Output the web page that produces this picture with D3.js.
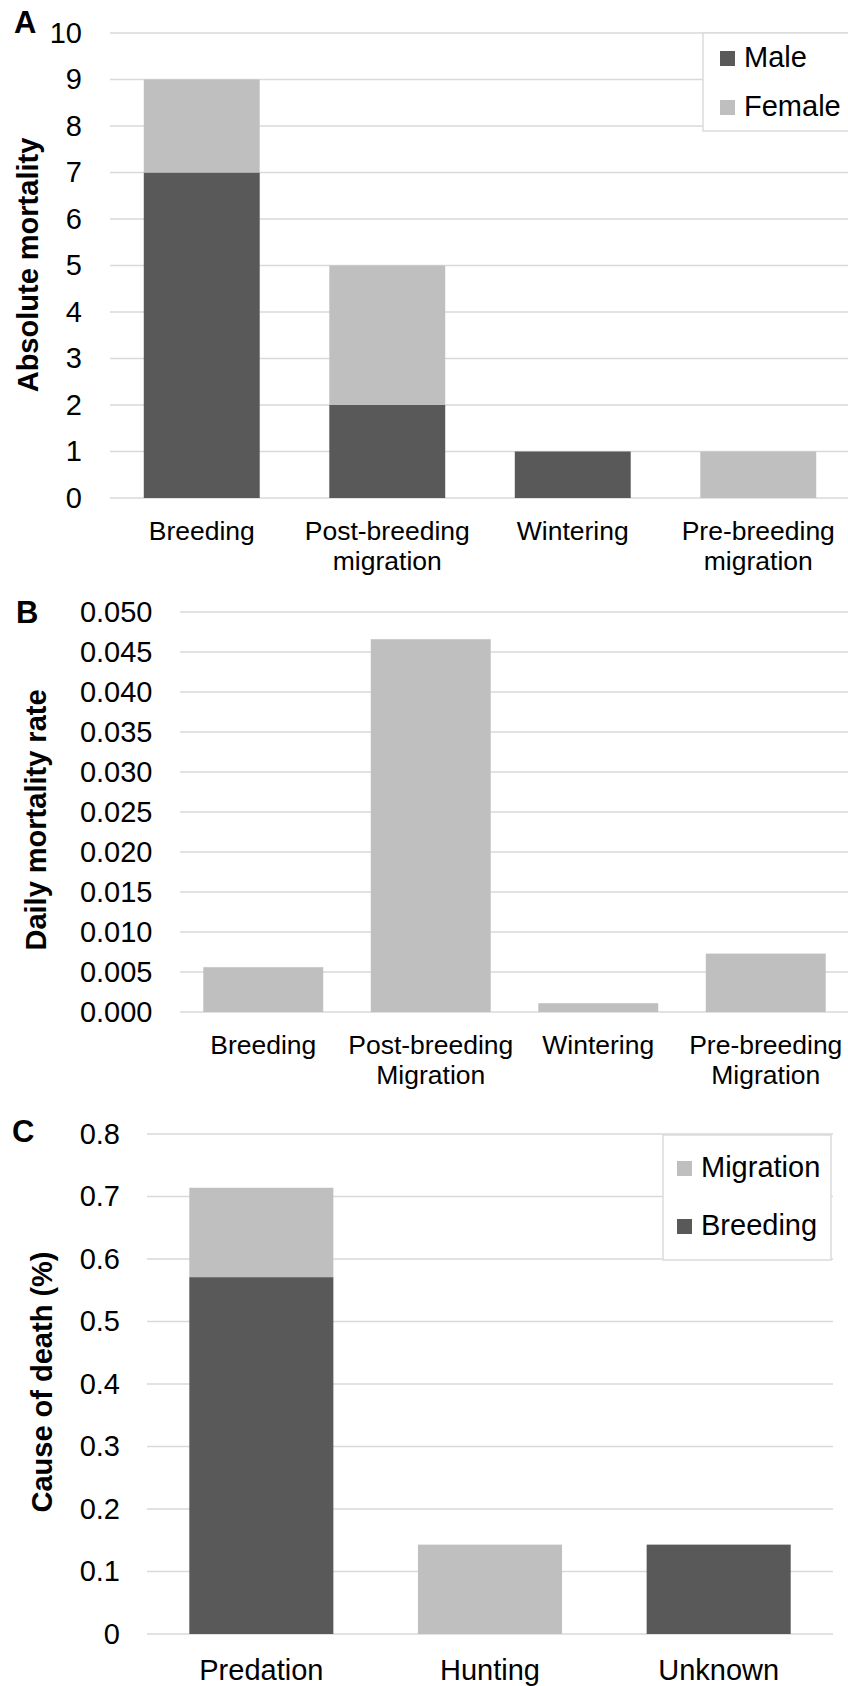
<!DOCTYPE html>
<html>
<head>
<meta charset="utf-8">
<script src="https://cdn.jsdelivr.net/npm/d3@7"></script>
<style>
  body { margin: 0; background: #fff; }
  svg { display: block; font-family: "Liberation Sans", Arial, sans-serif; }
</style>
</head>
<body>
<svg id="chart" width="848" height="1686"></svg>
<script>
// panel A - absolute mortality by period and sex
const periodsA = ['Breeding', 'Post-breeding\nmigration', 'Wintering', 'Pre-breeding\nmigration'];
const maleA = [7, 2, 1, 0];
const femaleA = [2, 3, 0, 1];
const ticksA = [0, 1, 2, 3, 4, 5, 6, 7, 8, 9, 10];

// panel B - daily mortality rate
const periodsB = ['Breeding', 'Post-breeding\nMigration', 'Wintering', 'Pre-breeding\nMigration'];
const rateB = [0.0056, 0.0466, 0.0011, 0.0073];
const ticksB = [0, 0.005, 0.010, 0.015, 0.020, 0.025, 0.030, 0.035, 0.040, 0.045, 0.050];

// panel C - cause of death
const causesC = ['Predation', 'Hunting', 'Unknown'];
const breedingC = [0.571, 0, 0.143];
const migrationC = [0.143, 0.143, 0];
const ticksC = [0, 0.1, 0.2, 0.3, 0.4, 0.5, 0.6, 0.7, 0.8];

const DARK = '#595959';
const LIGHT = '#bfbfbf';
const GRID = '#d9d9d9';
const FS = 29;

const svg = d3.select('#chart');

function panel(o) {
  const g = svg.append('g');
  const x = d3.scaleBand().domain(o.cats).range(o.xr)
    .paddingInner(o.pad).paddingOuter(o.pad / 2);
  const y = d3.scaleLinear().domain(o.dom).range(o.yr);

  // gridlines
  g.append('g')
    .selectAll('line')
    .data(o.ticks)
    .join('line')
      .attr('x1', o.gx[0])
      .attr('x2', o.gx[1])
      .attr('y1', d => y(d))
      .attr('y2', d => y(d))
      .attr('stroke', GRID)
      .attr('stroke-width', 1.4);

  // bars (stacked)
  o.series.forEach((s, si) => {
    g.append('g')
      .selectAll('rect')
      .data(o.cats)
      .join('rect')
        .attr('x', d => x(d))
        .attr('width', x.bandwidth())
        .attr('y', (d, i) => y(o.series.slice(0, si + 1).reduce((a, t) => a + t.vals[i], 0)))
        .attr('height', (d, i) => y(0) - y(s.vals[i]))
        .attr('fill', s.color);
  });

  // y axis
  const ya = g.append('g')
    .attr('transform', `translate(${o.xr[0]},0)`)
    .call(d3.axisLeft(y).tickValues(o.ticks).tickSize(0).tickPadding(27).tickFormat(o.fmt));
  ya.select('.domain').remove();
  ya.selectAll('text').style('font-size', FS + 'px').attr('fill', '#000')
    .attr('font-family', '"Liberation Sans", Arial, sans-serif');

  // x axis
  const xa = g.append('g')
    .attr('transform', `translate(0,${o.yr[0]})`)
    .call(d3.axisBottom(x).tickSize(0).tickPadding(o.xpad));
  xa.select('.domain').remove();
  xa.selectAll('text')
    .style('font-size', o.xfs + 'px').attr('fill', '#000')
    .attr('font-family', '"Liberation Sans", Arial, sans-serif')
    .each(function (d) {
      const t = d3.select(this);
      const lines = d.split('\n');
      t.text(null);
      lines.forEach((ln, k) => {
        t.append('tspan').attr('x', 0).attr('dy', k === 0 ? '0.71em' : o.xlh + 'px').text(ln);
      });
    })
    .attr('dy', null);

  // axis title
  svg.append('text')
    .attr('transform', `translate(${o.title[1]},${o.title[2]}) rotate(-90)`)
    .attr('text-anchor', 'middle')
    .style('font-size', FS + 'px')
    .style('font-weight', 'bold')
    .text(o.title[0]);

  // panel letter
  svg.append('text')
    .attr('x', o.letter[1]).attr('y', o.letter[2])
    .style('font-size', '31px')
    .style('font-weight', 'bold')
    .text(o.letter[0]);

  // legend
  if (o.legend) {
    const L = o.legend;
    const lg = svg.append('g');
    lg.append('rect')
      .attr('x', L.box[0]).attr('y', L.box[1])
      .attr('width', L.box[2]).attr('height', L.box[3])
      .attr('fill', '#fff').attr('stroke', GRID).attr('stroke-width', 1.4);
    L.items.forEach((it, k) => {
      const by = L.first + k * L.step;
      lg.append('rect')
        .attr('x', L.sx).attr('y', by - 16)
        .attr('width', 15).attr('height', 15)
        .attr('fill', it.color);
      lg.append('text')
        .attr('x', L.sx + 24).attr('y', by)
        .style('font-size', FS + 'px')
        .text(it.name);
    });
  }
}

panel({
  cats: periodsA,
  xr: [109, 851], yr: [498, 33], dom: [0, 10], gx: [110, 848],
  pad: 0.375, ticks: ticksA, fmt: d3.format('d'),
  xfs: 26.5, xpad: 23, xlh: 30,
  series: [{ vals: maleA, color: DARK }, { vals: femaleA, color: LIGHT }],
  title: ['Absolute mortality', 38, 265],
  letter: ['A', 14, 33],
  legend: {
    box: [703, 33, 146, 98], sx: 720, first: 67, step: 49,
    items: [{ name: 'Male', color: DARK }, { name: 'Female', color: LIGHT }]
  }
});

panel({
  cats: periodsB,
  xr: [179.5, 849.5], yr: [1012, 612], dom: [0, 0.05], gx: [180, 848],
  pad: 0.284, ticks: ticksB, fmt: d3.format('.3f'),
  xfs: 26.5, xpad: 23, xlh: 30,
  series: [{ vals: rateB, color: LIGHT }],
  title: ['Daily mortality rate', 46, 820],
  letter: ['B', 16, 623]
});

panel({
  cats: causesC,
  xr: [147, 833], yr: [1634, 1134], dom: [0, 0.8], gx: [147, 833],
  pad: 0.37, ticks: ticksC, fmt: d => d === 0 ? '0' : d3.format('.1f')(d),
  xfs: 29, xpad: 25, xlh: 33,
  series: [{ vals: breedingC, color: DARK }, { vals: migrationC, color: LIGHT }],
  title: ['Cause of death (%)', 52, 1382],
  letter: ['C', 12, 1142],
  legend: {
    box: [663, 1135, 168, 125], sx: 677, first: 1177, step: 58,
    items: [{ name: 'Migration', color: LIGHT }, { name: 'Breeding', color: DARK }]
  }
});
</script>
</body>
</html>
